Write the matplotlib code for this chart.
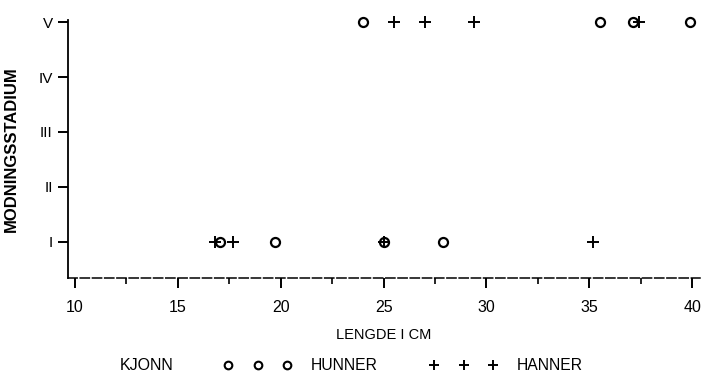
import matplotlib.pyplot as plt
from matplotlib.lines import Line2D

# lengde (cm) og modningsstadium for hunner og hanner
hunner_lengde = [24.0, 35.5, 37.1, 39.9, 17.05, 19.7, 25.0, 27.9]
hunner_stadium = [5, 5, 5, 5, 1, 1, 1, 1]
hanner_lengde = [25.5, 27.0, 29.4, 37.4, 16.8, 17.7, 25.0, 35.2]
hanner_stadium = [5, 5, 5, 5, 1, 1, 1, 1]

stadium_ticks = [1, 2, 3, 4, 5]
stadium_labels = ['I', 'II', 'III', 'IV', 'V']
lengde_ticks = [10, 15, 20, 25, 30, 35, 40]

plt.rcParams['font.family'] = ['Liberation Sans', 'DejaVu Sans']

fig = plt.figure(figsize=(7.06, 3.83), dpi=100)
ax = fig.add_axes([68 / 706, 1 - 278 / 383, 632 / 706, 258 / 383])

ax.plot(hunner_lengde, hunner_stadium, linestyle='none', marker='o',
        markersize=6.5, markerfacecolor='none', markeredgecolor='black',
        markeredgewidth=1.6, clip_on=False)
ax.plot(hanner_lengde, hanner_stadium, linestyle='none', marker='+',
        markersize=8, color='black', markeredgewidth=1.4, clip_on=False)

ax.set_xlim(9.66, 40.38)
ax.set_ylim(0.34, 5.04)

ax.set_xticks(lengde_ticks)
ax.set_xticks([12.5, 17.5, 22.5, 27.5, 32.5, 37.5], minor=True)
ax.set_yticks(stadium_ticks)
ax.set_yticklabels(stadium_labels)

ax.tick_params(axis='x', which='major', direction='out', length=7, width=1.4,
               pad=9, labelsize=11.5)
ax.tick_params(axis='x', which='minor', direction='out', length=4, width=1.2)
ax.tick_params(axis='y', direction='out', length=7, width=1.4, pad=4,
               labelsize=11)

for side in ['top', 'right']:
    ax.spines[side].set_visible(False)
ax.spines['left'].set_linewidth(1.3)
ax.spines['bottom'].set_linewidth(1.1)
ax.spines['bottom'].set_linestyle((0, (6, 2)))

ax.set_xlabel('LENGDE I CM', fontsize=10.5, labelpad=9)
ax.set_ylabel('MODNINGSSTADIUM', fontsize=12, fontweight='bold')
ax.yaxis.set_label_coords(-0.078, 0.5)

# forklaring nederst
fig.text(120 / 706, 1 - 366 / 383, 'KJONN', fontsize=11.5, va='center')
handles = [
    Line2D([], [], linestyle='none', marker='o', markersize=5.5,
           markerfacecolor='none', markeredgecolor='black', markeredgewidth=1.5),
    Line2D([], [], linestyle='none', marker='+', markersize=7,
           color='black', markeredgewidth=1.4),
]
fig.legend(handles, ['HUNNER', 'HANNER'], ncol=2, numpoints=3, frameon=False,
           fontsize=11.3, handlelength=4.4, handletextpad=1.17,
           columnspacing=3.3, loc='center left',
           bbox_to_anchor=(223 / 706, 1 - 366 / 383), borderaxespad=0,
           borderpad=0)

fig.savefig('out.png', dpi=100)
